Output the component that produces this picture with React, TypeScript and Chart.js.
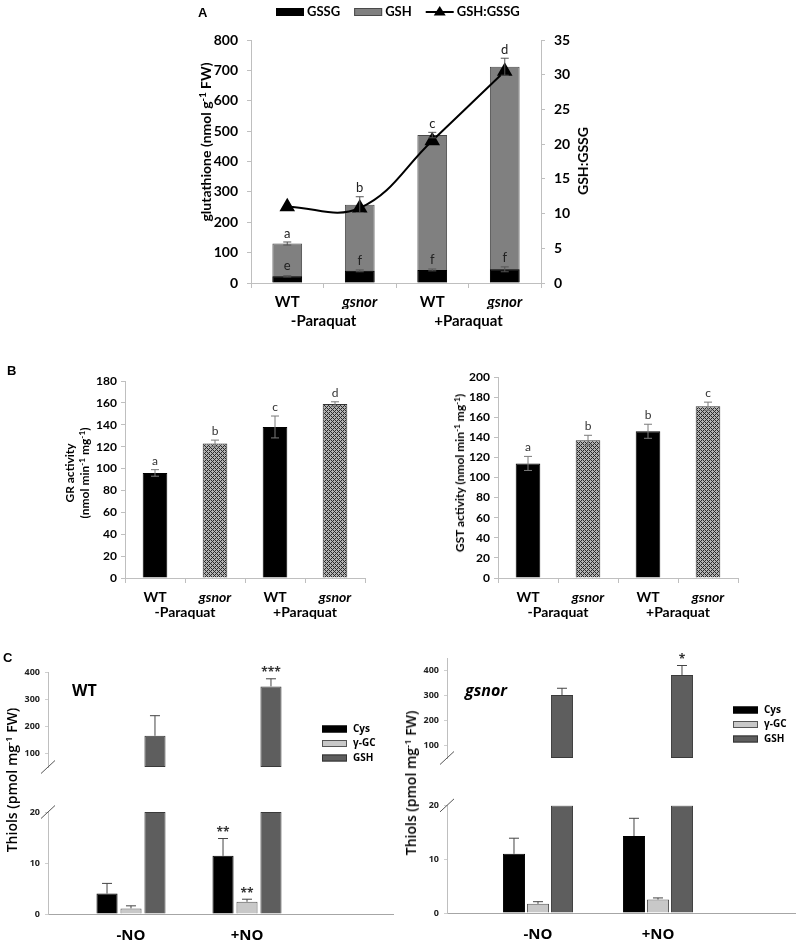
import React, { useEffect, useRef } from 'react';
import { Chart, registerables } from 'chart.js';
Chart.register(...registerables);

// ---------- Panel A ----------
const treatments = ['WT', 'gsnor', 'WT', 'gsnor'];
const paraquatGroups = ['-Paraquat', '+Paraquat'];
const seriesA = ['GSSG', 'GSH', 'GSH:GSSG'];
const gssg = [22, 40, 43, 45];
const gssgErr = [2, 3, 3, 8];
const gssgLetters = ['e', 'f', 'f', 'f'];
const gsh = [130, 258, 487, 712];
const gshErr = [5, 26, 9, 28];
const gshLetters = ['a', 'b', 'c', 'd'];
const ratio = [11.0, 10.8, 20.5, 30.5];

// ---------- Panel B ----------
const gr = [96, 123, 138, 159];
const grErr = [3, 3, 10, 2];
const grLetters = ['a', 'b', 'c', 'd'];
const gst = [114, 137, 146, 171];
const gstErr = [7, 5, 7, 4];
const gstLetters = ['a', 'b', 'b', 'c'];

// ---------- Panel C ----------
const noGroups = ['-NO', '+NO'];
const thiolSeries = ['Cys', 'γ-GC', 'GSH'];
const wtCys = [4.0, 11.4];
const wtCysErr = [2.0, 3.4];
const wtCysSig = ['', '**'];
const wtGgc = [1.1, 2.4];
const wtGgcErr = [0.5, 0.5];
const wtGgcSig = ['', '**'];
const wtGsh = [165, 347];
const wtGshErr = [74, 28];
const wtGshSig = ['', '***'];
const gsnorCys = [11.0, 14.3];
const gsnorCysErr = [2.9, 3.3];
const gsnorCysSig = ['', ''];
const gsnorGgc = [1.7, 2.5];
const gsnorGgcErr = [0.4, 0.3];
const gsnorGgcSig = ['', ''];
const gsnorGsh = [302, 382];
const gsnorGshErr = [27, 38];
const gsnorGshSig = ['', '*'];
const upperTicks = [100, 200, 300, 400];
const lowerTicks = [0, 10, 20];

const FONT_A = 'Lato, "Open Sans", sans-serif';
const FONT_C = '"Open Sans", "Noto Sans", sans-serif';

function hatchPattern(): any {
  const c = document.createElement('canvas');
  c.width = 4;
  c.height = 4;
  const g = c.getContext('2d');
  if (!g) return '#999';
  g.fillStyle = '#b2b2b2';
  g.fillRect(0, 0, 4, 4);
  g.fillStyle = '#2a2a2a';
  for (let x = 0; x < 4; x++)
    for (let y = 0; y < 4; y++)
      if ((x + y) % 4 === 0 || (x - y + 4) % 4 === 0) g.fillRect(x, y, 1, 1);
  return g.createPattern(c, 'repeat') || '#999';
}

function makeAnnot(items: any[]) {
  return {
    id: 'annot',
    afterDatasetsDraw(chart: any) {
      const ctx = chart.ctx;
      ctx.save();
      for (const it of items) {
        const meta = chart.getDatasetMeta(it.dataset);
        const ys = chart.scales[meta.yAxisID];
        meta.data.forEach((el: any, j: number) => {
          const v = it.values[j];
          if (v == null) return;
          const e = it.errors ? it.errors[j] : 0;
          const x = el.x;
          const yTop = ys.getPixelForValue(v + e);
          const yBot = ys.getPixelForValue(it.both ? v - e : v);
          if (it.errors) {
            ctx.strokeStyle = it.color;
            ctx.lineWidth = 1;
            ctx.beginPath();
            ctx.moveTo(x, yTop);
            ctx.lineTo(x, yBot);
            ctx.moveTo(x - it.cap, yTop);
            ctx.lineTo(x + it.cap, yTop);
            if (it.both) {
              ctx.moveTo(x - it.cap, yBot);
              ctx.lineTo(x + it.cap, yBot);
            }
            ctx.stroke();
          }
          const lab = it.labels ? it.labels[j] : '';
          if (lab) {
            ctx.fillStyle = it.labelColor || '#222';
            ctx.font = it.labelFont;
            ctx.textAlign = 'center';
            ctx.textBaseline = 'bottom';
            ctx.fillText(lab, x, yTop - it.gap);
          }
        });
      }
      ctx.restore();
    },
  };
}

function makeKey(cfg: any) {
  return {
    id: 'key',
    afterDraw(chart: any) {
      const ctx = chart.ctx;
      ctx.save();
      ctx.font = cfg.font;
      ctx.textBaseline = 'middle';
      ctx.textAlign = 'left';
      let x = cfg.x;
      let y = cfg.y;
      cfg.items.forEach((it: any) => {
        if (it.kind === 'line') {
          ctx.strokeStyle = it.stroke;
          ctx.lineWidth = 2;
          ctx.beginPath();
          ctx.moveTo(x, y);
          ctx.lineTo(x + cfg.boxW, y);
          ctx.stroke();
          const cx = x + cfg.boxW / 2;
          const r = 6;
          ctx.fillStyle = it.fill;
          ctx.beginPath();
          ctx.moveTo(cx, y - r);
          ctx.lineTo(cx + r, y + r * 0.6);
          ctx.lineTo(cx - r, y + r * 0.6);
          ctx.closePath();
          ctx.fill();
        } else {
          ctx.fillStyle = it.fill;
          ctx.fillRect(x, y - cfg.boxH / 2, cfg.boxW, cfg.boxH);
          ctx.strokeStyle = it.stroke;
          ctx.lineWidth = 1;
          ctx.strokeRect(x + 0.5, y - cfg.boxH / 2 + 0.5, cfg.boxW - 1, cfg.boxH - 1);
        }
        ctx.fillStyle = cfg.color;
        ctx.fillText(it.text, x + cfg.boxW + cfg.textGap, y);
        if (cfg.vertical) y += cfg.rowH;
        else x += cfg.boxW + cfg.textGap + ctx.measureText(it.text).width + cfg.itemGap;
      });
      ctx.restore();
    },
  };
}

function makeBreak(edge: string) {
  return {
    id: 'brk',
    afterDraw(chart: any) {
      const a = chart.chartArea;
      const ctx = chart.ctx;
      const y = edge === 'top' ? a.top : a.bottom;
      ctx.save();
      ctx.strokeStyle = '#555';
      ctx.lineWidth = 1;
      ctx.beginPath();
      ctx.moveTo(a.left - 7, y + 6.5);
      ctx.lineTo(a.left + 7, y - 6.5);
      ctx.stroke();
      ctx.restore();
    },
  };
}

const axisGrey = '#bfbfbf';

function configA() {
  const barCommon = { grouped: false, barPercentage: 0.41, categoryPercentage: 1, borderWidth: 1, yAxisID: 'y' };
  return {
    type: 'bar',
    data: {
      labels: treatments,
      datasets: [
        { ...barCommon, type: 'bar', label: seriesA[0], data: gssg, backgroundColor: '#000', borderColor: '#000', order: 1 },
        { ...barCommon, type: 'bar', label: seriesA[1], data: gsh, backgroundColor: '#808080', borderColor: '#4a4a4a', order: 2 },
        {
          type: 'line', label: seriesA[2], data: ratio, yAxisID: 'y2', borderColor: '#000', borderWidth: 2,
          tension: 0.4, pointStyle: 'triangle', pointRadius: 7, pointBackgroundColor: '#000', pointBorderColor: '#000', order: 0,
        },
      ],
    },
    options: {
      responsive: false,
      animation: false,
      devicePixelRatio: 1,
      layout: { padding: { top: 40, left: 0, right: 0, bottom: 0 } },
      plugins: { legend: { display: false }, tooltip: { enabled: false } },
      scales: {
        x: {
          type: 'category', offset: true,
          grid: { display: true, offset: true, drawOnChartArea: false, tickLength: 5, color: axisGrey },
          border: { color: axisGrey },
          ticks: {
            color: '#000', padding: 5,
            font: (c: any) => ({ family: FONT_A, size: 15, weight: 'bold', style: treatments[c.index] === 'gsnor' ? 'italic' : 'normal' }),
          },
          afterFit: (s: any) => { s.height = 26; },
        },
        x2: {
          type: 'category', labels: paraquatGroups, position: 'bottom', weight: 1, offset: true,
          grid: { display: false, drawTicks: false }, border: { display: false },
          ticks: { color: '#000', padding: 3, font: { family: FONT_A, size: 15, weight: 'bold' } },
          afterFit: (s: any) => { s.height = 21; },
        },
        y: {
          position: 'left', min: 0, max: 800,
          ticks: { stepSize: 100, color: '#000', padding: 9, font: { family: FONT_A, size: 14, weight: 'bold' } },
          grid: { drawOnChartArea: false, tickLength: 4, color: axisGrey },
          border: { color: axisGrey },
          afterFit: (s: any) => { s.width = 71; },
        },
        y2: {
          position: 'right', min: 0, max: 35,
          ticks: { stepSize: 5, color: '#000', padding: 9, font: { family: FONT_A, size: 14, weight: 'bold' } },
          grid: { drawOnChartArea: false, tickLength: 4, color: axisGrey },
          border: { color: axisGrey },
          afterFit: (s: any) => { s.width = 79; },
        },
      },
    },
    plugins: [
      makeAnnot([
        { dataset: 1, values: gsh, errors: gshErr, both: true, labels: gshLetters, color: '#555', cap: 4, gap: 2, labelFont: `13px ${FONT_A}` },
        { dataset: 0, values: gssg, errors: gssgErr, both: true, labels: gssgLetters, color: '#555', cap: 4, gap: 3, labelFont: `13px ${FONT_A}` },
      ]),
      makeKey({
        x: 96, y: 12, font: `bold 13px ${FONT_A}`, color: '#000', boxW: 28, boxH: 8, textGap: 3, itemGap: 14,
        items: [
          { text: seriesA[0], kind: 'box', fill: '#000', stroke: '#000' },
          { text: seriesA[1], kind: 'box', fill: '#808080', stroke: '#4a4a4a' },
          { text: seriesA[2], kind: 'line', fill: '#000', stroke: '#000' },
        ],
      }),
    ],
  };
}

function configB(values: number[], errs: number[], letters: string[], yMax: number, padTop: number, padRight: number, yWidth: number) {
  const pat = hatchPattern();
  return {
    type: 'bar',
    data: {
      labels: treatments,
      datasets: [
        {
          data: values,
          backgroundColor: treatments.map((t) => (t === 'gsnor' ? pat : '#000')),
          borderColor: treatments.map((t) => (t === 'gsnor' ? '#333' : '#000')),
          borderWidth: 1, barPercentage: 0.41, categoryPercentage: 1,
        },
      ],
    },
    options: {
      responsive: false,
      animation: false,
      devicePixelRatio: 1,
      layout: { padding: { top: padTop, left: 0, right: padRight, bottom: 0 } },
      plugins: { legend: { display: false }, tooltip: { enabled: false } },
      scales: {
        x: {
          type: 'category', offset: true,
          grid: { display: true, offset: true, drawOnChartArea: false, tickLength: 5, color: axisGrey },
          border: { color: axisGrey },
          ticks: {
            color: '#000', padding: 6,
            font: (c: any) => ({ family: FONT_A, size: 14, weight: 'bold', style: treatments[c.index] === 'gsnor' ? 'italic' : 'normal' }),
          },
          afterFit: (s: any) => { s.height = 26; },
        },
        x2: {
          type: 'category', labels: paraquatGroups, position: 'bottom', weight: 1, offset: true,
          grid: { display: false, drawTicks: false }, border: { display: false },
          ticks: { color: '#000', padding: 0, font: { family: FONT_A, size: 14, weight: 'bold' } },
          afterFit: (s: any) => { s.height = 26; },
        },
        y: {
          position: 'left', min: 0, max: yMax,
          ticks: { stepSize: 20, color: '#000', padding: 4, font: { family: FONT_A, size: 12, weight: 'bold' } },
          grid: { drawOnChartArea: false, tickLength: 4, color: axisGrey },
          border: { color: axisGrey },
          afterFit: (s: any) => { s.width = yWidth; },
        },
      },
    },
    plugins: [
      makeAnnot([
        { dataset: 0, values, errors: errs, both: true, labels: letters, color: '#7a7a7a', cap: 4, gap: 3, labelFont: `12px ${FONT_A}`, labelColor: '#333' },
      ]),
    ],
  };
}

function configC(part: string, d: any) {
  const upper = part === 'upper';
  const toXY = (arr: number[]) => arr.map((v, i) => ({ x: i + 1, y: v }));
  const nulls = (arr: number[]) => arr.map((_, i) => ({ x: i + 1, y: null }));
  const common = { barPercentage: d.barPct, categoryPercentage: d.catPct, borderWidth: 1 };
  const datasets = upper
    ? [
        { ...common, label: thiolSeries[0], data: nulls(d.cys), backgroundColor: '#000', borderColor: '#000' },
        { ...common, label: thiolSeries[1], data: nulls(d.ggc), backgroundColor: '#c8c8c8', borderColor: '#555' },
        { ...common, label: thiolSeries[2], data: toXY(d.gsh), backgroundColor: '#5e5e5e', borderColor: '#3a3a3a', base: d.upperMin, borderSkipped: false },
      ]
    : [
        { ...common, label: thiolSeries[0], data: toXY(d.cys), backgroundColor: '#000', borderColor: '#000' },
        { ...common, label: thiolSeries[1], data: toXY(d.ggc), backgroundColor: '#c8c8c8', borderColor: '#555' },
        { ...common, label: thiolSeries[2], data: toXY(d.gsh.map((v: number) => Math.min(v, d.lowerMax))), backgroundColor: '#5e5e5e', borderColor: '#3a3a3a' },
      ];
  const tickList = upper ? upperTicks : lowerTicks;
  const starFont = `bold 12px ${FONT_C}`;
  const plugins: any[] = [makeBreak(upper ? 'bottom' : 'top')];
  if (upper) {
    plugins.push(
      makeAnnot([{ dataset: 2, values: d.gsh, errors: d.gshErr, both: false, labels: d.gshSig, color: '#444', cap: 5, gap: 0, labelFont: starFont, labelColor: '#333' }]),
      makeKey({
        x: d.keyX, y: d.keyY, font: `bold 10px ${FONT_C}`, color: '#000', boxW: 25, boxH: 7, textGap: 6, rowH: 14.5, vertical: true,
        items: [
          { text: thiolSeries[0], kind: 'box', fill: '#000', stroke: '#000' },
          { text: thiolSeries[1], kind: 'box', fill: '#c8c8c8', stroke: '#555' },
          { text: thiolSeries[2], kind: 'box', fill: '#5e5e5e', stroke: '#333' },
        ],
      })
    );
  } else {
    plugins.push(
      makeAnnot([
        { dataset: 0, values: d.cys, errors: d.cysErr, both: false, labels: d.cysSig, color: '#444', cap: 5, gap: 0, labelFont: starFont, labelColor: '#333' },
        { dataset: 1, values: d.ggc, errors: d.ggcErr, both: false, labels: d.ggcSig, color: '#444', cap: 5, gap: 0, labelFont: starFont, labelColor: '#333' },
      ])
    );
  }
  return {
    type: 'bar',
    data: { datasets },
    options: {
      responsive: false,
      animation: false,
      devicePixelRatio: 1,
      layout: { padding: upper ? { top: d.upTop, bottom: d.upBottom, left: 0, right: d.padRight } : { top: d.lowTop, bottom: 0, left: 0, right: d.padRight } },
      plugins: { legend: { display: false }, tooltip: { enabled: false } },
      scales: {
        x: {
          type: 'linear', display: !upper, min: d.xMin, max: d.xMax, offset: false,
          afterBuildTicks: (s: any) => { s.ticks = noGroups.map((_, i) => ({ value: i + 1 })); },
          grid: { display: false, drawTicks: false },
          border: { color: '#a6a6a6' },
          ticks: { color: '#000', padding: d.xPad, font: { family: FONT_C, size: 15, weight: 'bold' }, callback: (_v: any, i: number) => noGroups[i] },
          afterFit: (s: any) => { s.height = d.xH; },
        },
        y: {
          type: 'linear', min: upper ? d.upperMin : 0, max: upper ? d.upperMax : d.lowerMax,
          afterBuildTicks: (s: any) => { s.ticks = tickList.map((v) => ({ value: v })); },
          ticks: { color: '#222', padding: 5, font: { family: FONT_C, size: 9, weight: 'bold' } },
          grid: { drawOnChartArea: false, tickLength: 3, color: '#cfcfcf' },
          border: { color: '#bfbfbf' },
          afterFit: (s: any) => { s.width = d.yW; },
        },
      },
    },
    plugins,
  };
}

const cLeft = {
  cys: wtCys, cysErr: wtCysErr, cysSig: wtCysSig, ggc: wtGgc, ggcErr: wtGgcErr, ggcSig: wtGgcSig,
  gsh: wtGsh, gshErr: wtGshErr, gshSig: wtGshSig,
  upperMin: 50, upperMax: 400, lowerMax: 20,
  xMin: 0.2845, xMax: 3.2586, catPct: 0.62, barPct: 0.88,
  upTop: 22, upBottom: 12, lowTop: 12, padRight: 7, yW: 48, xH: 31, xPad: 13,
  keyX: 322, keyY: 79,
};
const cRight = {
  cys: gsnorCys, cysErr: gsnorCysErr, cysSig: gsnorCysSig, ggc: gsnorGgc, ggcErr: gsnorGgcErr, ggcSig: gsnorGgcSig,
  gsh: gsnorGsh, gshErr: gsnorGshErr, gshSig: gsnorGshSig,
  upperMin: 50, upperMax: 450, lowerMax: 20,
  xMin: 0.2417, xMax: 3.1417, catPct: 0.6, barPct: 0.92,
  upTop: 13, upBottom: 15, lowTop: 10, padRight: 5, yW: 47, xH: 32, xPad: 13,
  keyX: 333, keyY: 65,
};

function ChartCanvas({ x, y, w, h, make }: any) {
  const ref = useRef<HTMLCanvasElement | null>(null);
  useEffect(() => {
    if (!ref.current) return;
    const chart = new Chart(ref.current, make());
    return () => chart.destroy();
  }, []);
  return <canvas ref={ref} width={w} height={h} style={{ position: 'absolute', left: x, top: y, width: w, height: h }} />;
}

function VText({ cx, cy, children, style }: any) {
  return (
    <div
      style={{
        position: 'absolute', left: cx, top: cy, transform: 'translate(-50%, -50%) rotate(-90deg)',
        whiteSpace: 'nowrap', lineHeight: 1, ...style,
      }}
    >
      {children}
    </div>
  );
}

const sup: any = { fontSize: '0.68em', verticalAlign: 'top', position: 'relative', top: '-0.15em' };

export default function App() {
  const boldA = { fontFamily: FONT_A, fontWeight: 700, color: '#000' };
  const boldC = { fontFamily: FONT_C, fontWeight: 700, color: '#000' };
  return (
    <div style={{ position: 'absolute', left: 0, top: 0, width: 800, height: 945, background: '#fff', overflow: 'hidden' }}>
      <ChartCanvas x={180} y={0} w={440} h={330} make={configA} />
      <ChartCanvas x={0} y={365} w={400} h={265} make={() => configB(gr, grErr, grLetters, 180, 16, 35, 125)} />
      <ChartCanvas x={400} y={365} w={400} h={265} make={() => configB(gst, gstErr, gstLetters, 200, 12, 62, 98)} />
      <ChartCanvas x={0} y={650} w={400} h={160} make={() => configC('upper', cLeft)} />
      <ChartCanvas x={0} y={800} w={400} h={145} make={() => configC('lower', cLeft)} />
      <ChartCanvas x={400} y={645} w={400} h={160} make={() => configC('upper', cRight)} />
      <ChartCanvas x={400} y={795} w={400} h={150} make={() => configC('lower', cRight)} />

      <div style={{ position: 'absolute', left: 198, top: 5, fontFamily: 'Arial, sans-serif', fontWeight: 700, fontSize: 13 }}>A</div>
      <div style={{ position: 'absolute', left: 7, top: 363, fontFamily: 'Arial, sans-serif', fontWeight: 700, fontSize: 13 }}>B</div>
      <div style={{ position: 'absolute', left: 3, top: 650, fontFamily: 'Arial, sans-serif', fontWeight: 700, fontSize: 13 }}>C</div>

      <VText cx={206} cy={142} style={{ ...boldA, fontSize: 14 }}>
        glutathione (nmol g<span style={sup}>-1</span> FW)
      </VText>
      <VText cx={583} cy={161} style={{ ...boldA, fontSize: 14 }}>GSH:GSSG</VText>

      <VText cx={70} cy={473} style={{ ...boldA, fontSize: 12 }}>GR activity</VText>
      <VText cx={85} cy={473} style={{ ...boldA, fontSize: 12 }}>
        (nmol min<span style={sup}>-1</span> mg<span style={sup}>-1</span>)
      </VText>
      <VText cx={460} cy={473} style={{ ...boldA, fontSize: 12 }}>
        GST activity (nmol min<span style={sup}>-1</span> mg<span style={sup}>-1</span>)
      </VText>

      <VText cx={12} cy={780} style={{ fontFamily: FONT_C, fontWeight: 600, fontSize: 14, color: '#000' }}>
        Thiols (pmol mg<span style={sup}>-1</span> FW)
      </VText>
      <VText cx={411} cy={783} style={{ fontFamily: FONT_C, fontWeight: 600, fontSize: 14, color: '#000' }}>
        Thiols (pmol mg<span style={sup}>-1</span> FW)
      </VText>

      <div style={{ position: 'absolute', left: 72, top: 679, ...boldC, fontSize: 16 }}>WT</div>
      <div style={{ position: 'absolute', left: 465, top: 679, ...boldC, fontSize: 16, fontStyle: 'italic' }}>gsnor</div>
    </div>
  );
}
